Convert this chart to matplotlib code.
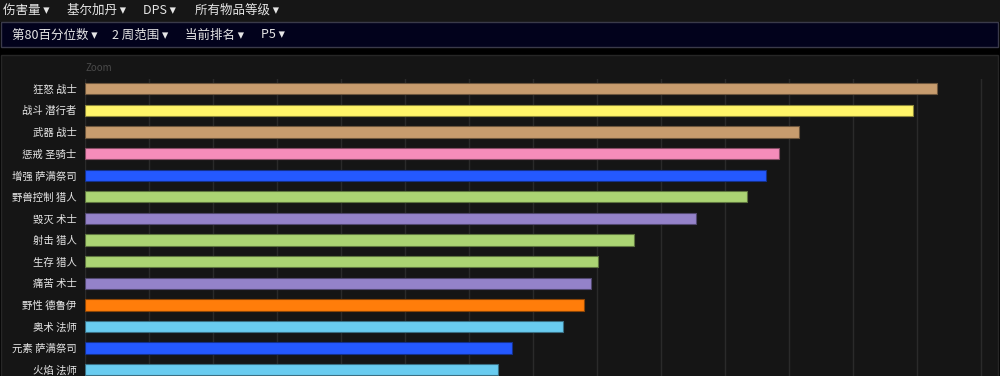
import numpy as np
import matplotlib.pyplot as plt
from matplotlib.patches import Rectangle
from matplotlib.colors import to_rgb

plt.rcParams['font.family'] = ['Noto Sans CJK SC', 'DejaVu Sans']

specs = ['狂怒 战士', '战斗 潜行者', '武器 战士', '惩戒 圣骑士', '增强 萨满祭司',
         '野兽控制 猎人', '毁灭 术士', '射击 猎人', '生存 猎人', '痛苦 术士',
         '野性 德鲁伊', '奥术 法师', '元素 萨满祭司', '火焰 法师']
dps = [1331, 1294, 1116, 1084, 1064, 1034, 955, 858, 802, 791, 780, 747, 667, 645]
colors = ['#C79C6E', '#FFF569', '#C79C6E', '#F58CBA', '#2459FF',
          '#ABD473', '#9482C9', '#ABD473', '#ABD473', '#9482C9',
          '#FF7D0A', '#69CCF0', '#2459FF', '#69CCF0']

menu_top = ['伤害量', '基尔加丹', 'DPS', '所有物品等级']
menu_top_x = [3, 67, 143, 195]
menu_sub = ['第80百分位数', '2 周范围', '当前排名', 'P5']
menu_sub_x = [12, 112, 185, 261]

W, H = 1000, 376
fig = plt.figure(figsize=(W / 100, H / 100), dpi=100, facecolor='#000000')

def px(x, y, w, h):
    # pixel box (top-left origin) -> figure fraction
    return (x / W, 1 - (y + h) / H, w / W, h / H)

def box(x, y, w, h, fc, ec='none', lw=1):
    l, b, ww, hh = px(x, y, w, h)
    fig.patches.append(Rectangle((l, b), ww, hh, transform=fig.transFigure,
                                 facecolor=fc, edgecolor=ec, linewidth=lw, zorder=-1))

# header strips
box(0, 0, 1000, 22, '#161616')
box(0.5, 22, 997, 25, '#02021c', ec='#3a3a4a')
box(0.5, 55, 997, 330, '#151515', ec='#262626')

for label, x in zip(menu_top, menu_top_x):
    fig.text(x / W, 1 - 10 / H, label + ' ▾', color='#e6e6e6', fontsize=9, va='center')
for label, x in zip(menu_sub, menu_sub_x):
    fig.text(x / W, 1 - 35 / H, label + ' ▾', color='#e6e6e6', fontsize=9, va='center')

fig.text(86 / W, 1 - 68 / H, 'Zoom', color='#4a4a4a', fontsize=7, va='center')

ax = fig.add_axes([85 / W, 0, 900 / W, 1 - 79 / H])
ax.set_zorder(2)
ax.set_facecolor('none')
y = np.arange(len(specs))
edges = [tuple(c * 0.55 for c in to_rgb(col)) for col in colors]
ax.barh(y, dps, height=0.52, color=colors, edgecolor=edges, linewidth=0.8, zorder=3)
ax.set_ylim(13.29, -0.45)
ax.set_xlim(0, 1406)
ax.set_xticks(np.arange(0, 1401, 100))
ax.grid(axis='x', color='#2a2a2a', linewidth=1, zorder=0)
ax.set_yticks(y)
ax.set_yticklabels(specs, color='#e6e6e6', fontsize=7.5)
ax.tick_params(axis='y', length=0, pad=6)
ax.tick_params(axis='x', length=0, labelbottom=False)
for s in ax.spines.values():
    s.set_visible(False)

fig.savefig('out.png', dpi=100, facecolor=fig.get_facecolor())
